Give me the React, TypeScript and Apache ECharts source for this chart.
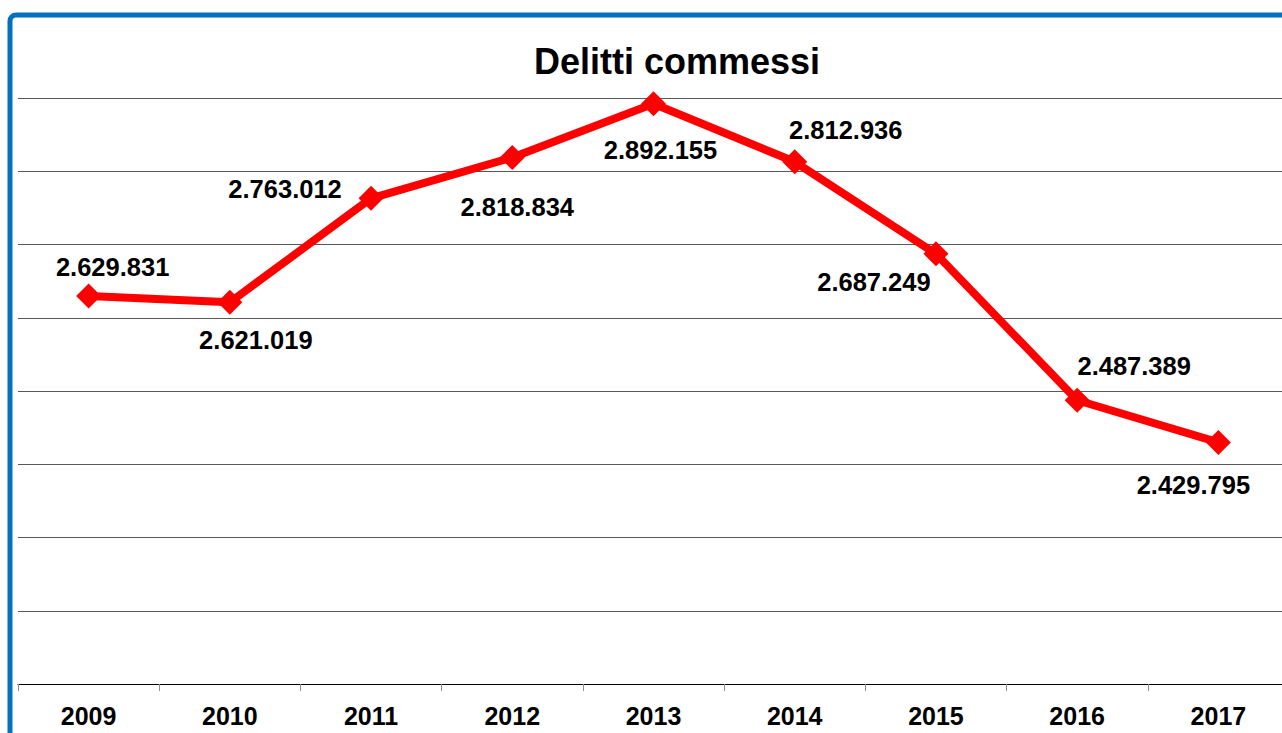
import React, { useEffect, useRef } from "react";
import * as echarts from "echarts";

const years = ["2009", "2010", "2011", "2012", "2013", "2014", "2015", "2016", "2017"];
const crimes = [2629831, 2621019, 2763012, 2818834, 2892155, 2812936, 2687249, 2487389, 2429795];
const labelOffsets: [number, number][] = [
  [24, -29],
  [26, 38],
  [-86, -9],
  [5, 50],
  [7, 46],
  [51, -32],
  [-62, 28],
  [57, -34],
  [-25, 43],
];
const titleText = "Delitti commessi";

const fmt = (v: number) => v.toString().replace(/\B(?=(\d{3})+(?!\d))/g, ".");

const FONT = '"Liberation Sans", Arial, Helvetica, sans-serif';

export default function App() {
  const ref = useRef<HTMLDivElement>(null);
  useEffect(() => {
    if (!ref.current) return;
    const chart = echarts.init(ref.current, undefined, { renderer: "svg" });
    chart.setOption({
      animation: false,
      backgroundColor: "#ffffff",
      graphic: [
        {
          type: "rect",
          z: -10,
          silent: true,
          shape: { x: 10, y: 15, width: 1320, height: 800, r: 6 },
          style: { fill: "#ffffff", stroke: "#0070C0", lineWidth: 5 },
        },
      ],
      title: {
        text: titleText,
        left: 534,
        top: 43,
        padding: 0,
        textStyle: { fontFamily: FONT, fontSize: 36, fontWeight: "bold", color: "#000000" },
      },
      grid: { left: 18, right: 0, top: 98, bottom: 49 },
      xAxis: {
        type: "category",
        data: years,
        boundaryGap: true,
        axisLine: { lineStyle: { color: "#000000", width: 1 } },
        axisTick: { show: true, length: 7, lineStyle: { color: "#8c8c8c", width: 1 } },
        axisLabel: {
          margin: 19,
          fontFamily: FONT,
          fontSize: 25,
          fontWeight: "bold",
          color: "#000000",
        },
      },
      yAxis: {
        type: "value",
        min: 2100000,
        max: 2900000,
        interval: 100000,
        axisLabel: { show: false },
        axisLine: { show: false },
        axisTick: { show: false },
        splitLine: { lineStyle: { color: "#595959", width: 1 } },
      },
      series: [
        {
          type: "line",
          data: crimes.map((v, i) => ({
            value: v,
            label: { offset: labelOffsets[i] },
          })),
          symbol: "diamond",
          symbolSize: 25,
          lineStyle: { color: "#FF0000", width: 8 },
          itemStyle: { color: "#FF0000" },
          label: {
            show: true,
            position: "inside",
            align: "center",
            verticalAlign: "middle",
            formatter: (p: any) => fmt(p.value),
            fontFamily: FONT,
            fontSize: 25.5,
            fontWeight: "bold",
            color: "#000000",
          },
        },
      ],
    });
    return () => chart.dispose();
  }, []);
  return (
    <div style={{ position: "fixed", left: 0, top: 0, width: 1282, height: 733, overflow: "hidden", background: "#fff" }}>
      <div ref={ref} style={{ width: 1289, height: 733 }} />
    </div>
  );
}
